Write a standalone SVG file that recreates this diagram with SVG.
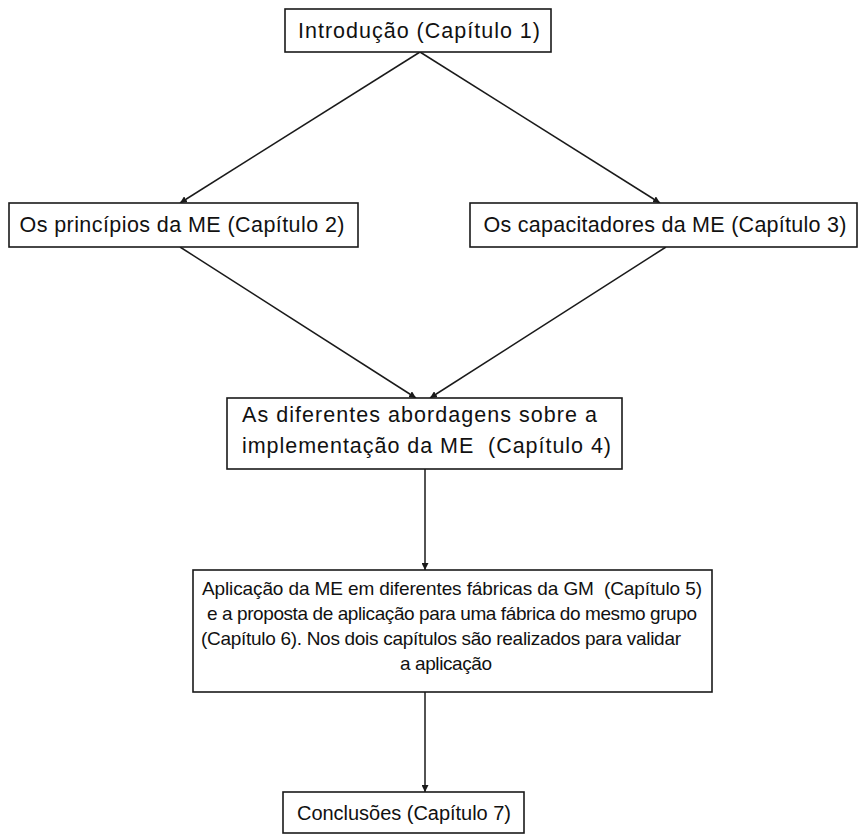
<svg xmlns="http://www.w3.org/2000/svg" width="864" height="834" viewBox="0 0 864 834">
  <style>
    .box { fill: #ffffff; stroke: #1a1a1a; stroke-width: 1.6; }
    .lbl { font-family: "Liberation Sans", Arial, sans-serif; font-size: 20px; fill: #111111; }
    .big { font-size: 21.5px; }
    .small { font-size: 19px; }
    .mid { text-anchor: middle; }
    .edge { fill: none; stroke: #1a1a1a; stroke-width: 1.5; marker-end: url(#arrow); }
  </style>
  <defs>
    <marker id="arrow" viewBox="0 0 10 10" refX="10" refY="5" markerWidth="7" markerHeight="7" markerUnits="userSpaceOnUse" orient="auto">
      <path d="M0,0 L10,5 L0,10 z" fill="#1a1a1a"/>
    </marker>
  </defs>
  <rect width="864" height="834" fill="#ffffff"/>

  <g id="connectors">
    <path class="edge" d="M420,52 L180,203"/>
    <path class="edge" d="M420,52 L660,203"/>
    <path class="edge" d="M180,247 L416,398"/>
    <path class="edge" d="M666,247 L430,398"/>
    <path class="edge" d="M425,469 L425,570"/>
    <path class="edge" d="M425,692 L425,792"/>
  </g>

  <g id="n1">
    <rect class="box" x="285" y="9" width="266" height="43"/>
    <text class="lbl big mid" x="419" y="38" textLength="242">Introdução (Capítulo 1)</text>
  </g>

  <g id="n2">
    <rect class="box" x="9" y="203" width="349" height="44"/>
    <text class="lbl big mid" x="182" y="232" textLength="325">Os princípios da ME (Capítulo 2)</text>
  </g>

  <g id="n3">
    <rect class="box" x="470" y="203" width="387" height="44"/>
    <text class="lbl big mid" x="665" y="232" textLength="363">Os capacitadores da ME (Capítulo 3)</text>
  </g>

  <g id="n4">
    <rect class="box" x="227" y="398" width="395" height="71"/>
    <text class="lbl big" x="242" y="422" textLength="355">As diferentes abordagens sobre a</text>
    <text class="lbl big" x="242" y="453" textLength="369">implementação da ME&#160; (Capítulo 4)</text>
  </g>

  <g id="n5">
    <rect class="box" x="193" y="570" width="519" height="122"/>
    <text class="lbl small mid" x="452" y="595" textLength="500">Aplicação da ME em diferentes fábricas da GM&#160; (Capítulo 5)</text>
    <text class="lbl small mid" x="452" y="620" textLength="490">e a proposta de aplicação para uma fábrica do mesmo grupo</text>
    <text class="lbl small mid" x="441" y="645" textLength="480">(Capítulo 6). Nos dois capítulos são realizados para validar</text>
    <text class="lbl small mid" x="446" y="670" textLength="92">a aplicação</text>
  </g>

  <g id="n6">
    <rect class="box" x="283" y="792" width="241" height="41"/>
    <text class="lbl mid" x="404" y="820" textLength="214">Conclusões (Capítulo 7)</text>
  </g>
</svg>
